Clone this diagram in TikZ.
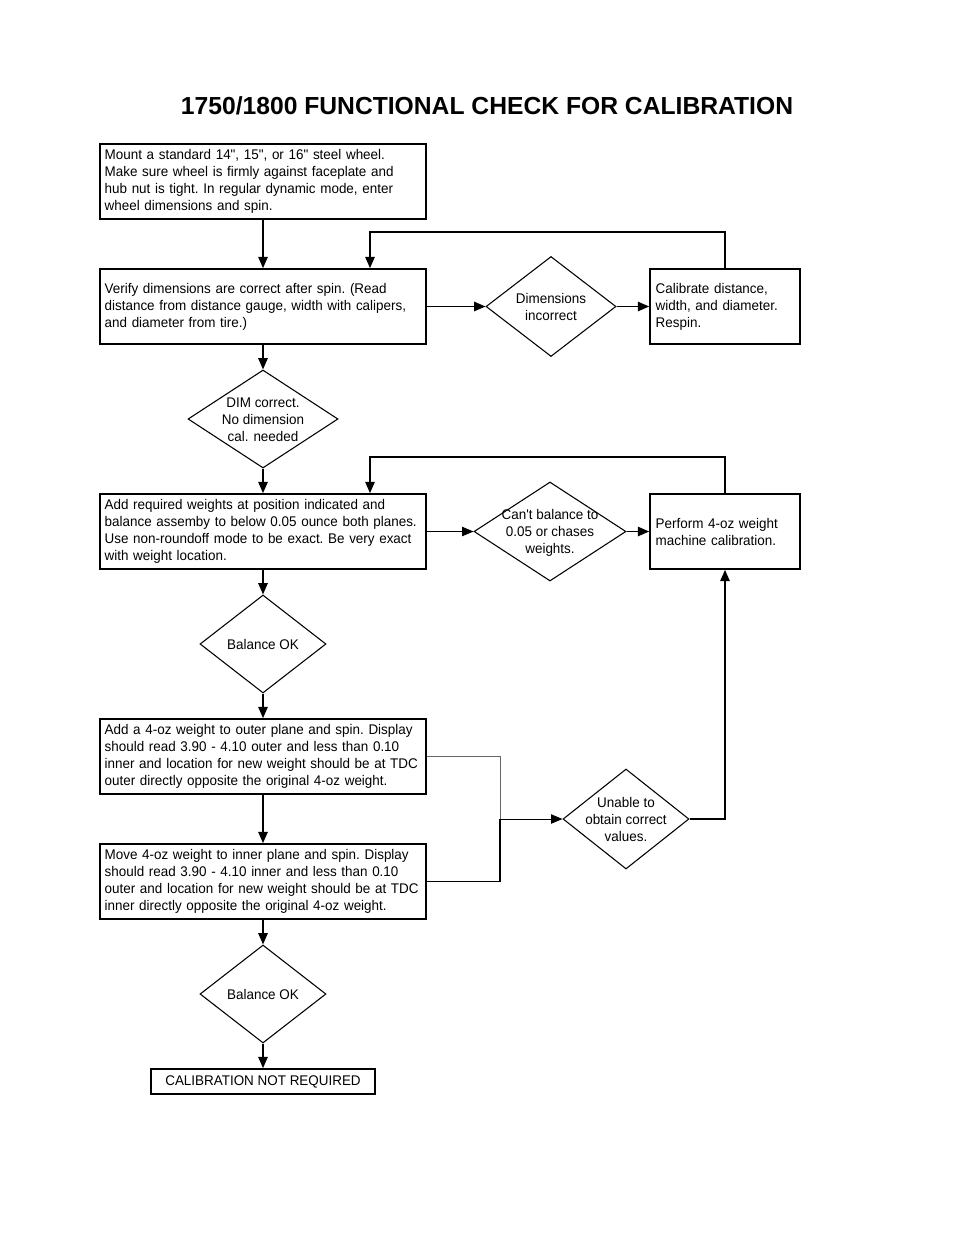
\documentclass[tikz,border=0pt]{standalone}
\usepackage{fontspec}
\setmainfont{Liberation Sans}
\newfontfamily\boxfont{Liberation Sans}[FakeStretch=0.96]
\usetikzlibrary{shapes.geometric,arrows.meta}
\newcommand{\dtxt}[1]{\makebox[0pt]{\raisebox{-4.3pt}[0pt][0pt]{\begin{tabular}{@{}c@{}}#1\end{tabular}}}}

\begin{document}
\begin{tikzpicture}[x=0.75pt, y=-0.75pt,
      box/.style={draw, line width=1.2pt, align=left, text width=237.5pt, inner xsep=3.5pt, inner ysep=2pt, minimum height=56.25pt, font=\boxfont\fontsize{10.5}{12.75}\selectfont\frenchspacing},
      sbox/.style={box, text width=104pt, inner xsep=4.25pt},
      dec/.style={draw, diamond, line width=0.8pt, inner sep=0pt, font=\boxfont\fontsize{10.5}{12.75}\selectfont},
      arr/.style={-{Triangle[length=8.5pt,width=7pt]}, line width=1.3pt},
      thinarr/.style={arr, line width=0.6pt}
    ]
    \useasboundingbox (0,0) rectangle (954,1235);
    \node[font=\fontsize{18.5}{22}\selectfont\bfseries] (title) at (487,106) {1750/1800 FUNCTIONAL CHECK FOR CALIBRATION};
    \node[box] (mount) at (263,181.5) {Mount a standard 14", 15", or 16" steel wheel.\\Make sure wheel is firmly against faceplate and\\hub nut is tight. In regular dynamic mode, enter\\wheel dimensions and spin.};
    \node[box] (verify) at (263,306.5) {Verify dimensions are correct after spin. (Read\\distance from distance gauge, width with calipers,\\and diameter from tire.)};
    \node[dec, minimum width=97.5pt, minimum height=75pt] (dimbad) at (551,306.5) {\dtxt{Dimensions\\incorrect}};
    \node[sbox] (calib) at (725,306.5) {Calibrate distance,\\width, and diameter.\\Respin.};
    \node[dec, minimum width=112.5pt, minimum height=73.5pt] (dimok) at (263,419) {\dtxt{DIM correct.\\No dimension\\cal. needed}};
    \node[box] (addw) at (263,531.5) {Add required weights at position indicated and\\balance assemby to below 0.05 ounce both planes.\\Use non-roundoff mode to be exact. Be very exact\\with weight location.};
    \node[dec, minimum width=114pt, minimum height=74.25pt] (nobal) at (550,531.5) {\dtxt{Can't balance to\\0.05 or chases\\weights.}};
    \node[sbox] (perf) at (725,531.5) {Perform 4-oz weight\\machine calibration.};
    \node[dec, minimum width=94.5pt, minimum height=73.5pt] (balok) at (263,644) {\dtxt{Balance OK}};
    \node[box] (outer) at (263,756.5) {Add a 4-oz weight to outer plane and spin. Display\\should read 3.90 - 4.10 outer and less than 0.10\\inner and location for new weight should be at TDC\\outer directly opposite the original 4-oz weight.};
    \node[box] (inner) at (263,881.5) {Move 4-oz weight to inner plane and spin. Display\\should read 3.90 - 4.10 inner and less than 0.10\\outer and location for new weight should be at TDC\\inner directly opposite the original 4-oz weight.};
    \node[dec, minimum width=94.5pt, minimum height=75pt] (unable) at (626,819) {\dtxt{Unable to\\obtain correct\\values.}};
    \node[dec, minimum width=94.5pt, minimum height=73.5pt] (balok2) at (263,994) {\dtxt{Balance OK}};
    \node[draw, line width=1.2pt, minimum width=168pt, minimum height=18.75pt, inner sep=0pt, font=\boxfont\fontsize{10.5}{12.75}\selectfont] (done) at (263,1081.5) {CALIBRATION NOT REQUIRED};
    \coordinate (back1) at (370,232);
    \coordinate (back2) at (370,457);
    \coordinate (join) at (500,819);
    \draw[arr] (mount) -- (verify); \draw[arr] (verify) -- (dimbad); \draw[arr] (dimbad) -- (calib);
    \draw[arr] (calib.north) |- (back1) -- (back1 |- verify.north);
    \draw[arr] (verify) -- (dimok); \draw[arr] (dimok) -- (addw);
    \draw[thinarr] (addw) -- (nobal); \draw[arr] (nobal) -- (perf);
    \draw[arr] (perf.north) |- (back2) -- (back2 |- addw.north);
    \draw[arr] (addw) -- (balok); \draw[arr] (balok) -- (outer); \draw[arr] (outer) -- (inner);
    \draw[line width=0.6pt, black!60] (outer.east) -| (join);
    \draw[line width=1.2pt] (inner.east) -| (join);
    \draw[thinarr] (join) -- (unable);
    \draw[arr] (unable.east) -| (perf.south);
    \draw[arr] (inner) -- (balok2); \draw[arr] (balok2) -- (done);
  \end{tikzpicture}
\end{document}
